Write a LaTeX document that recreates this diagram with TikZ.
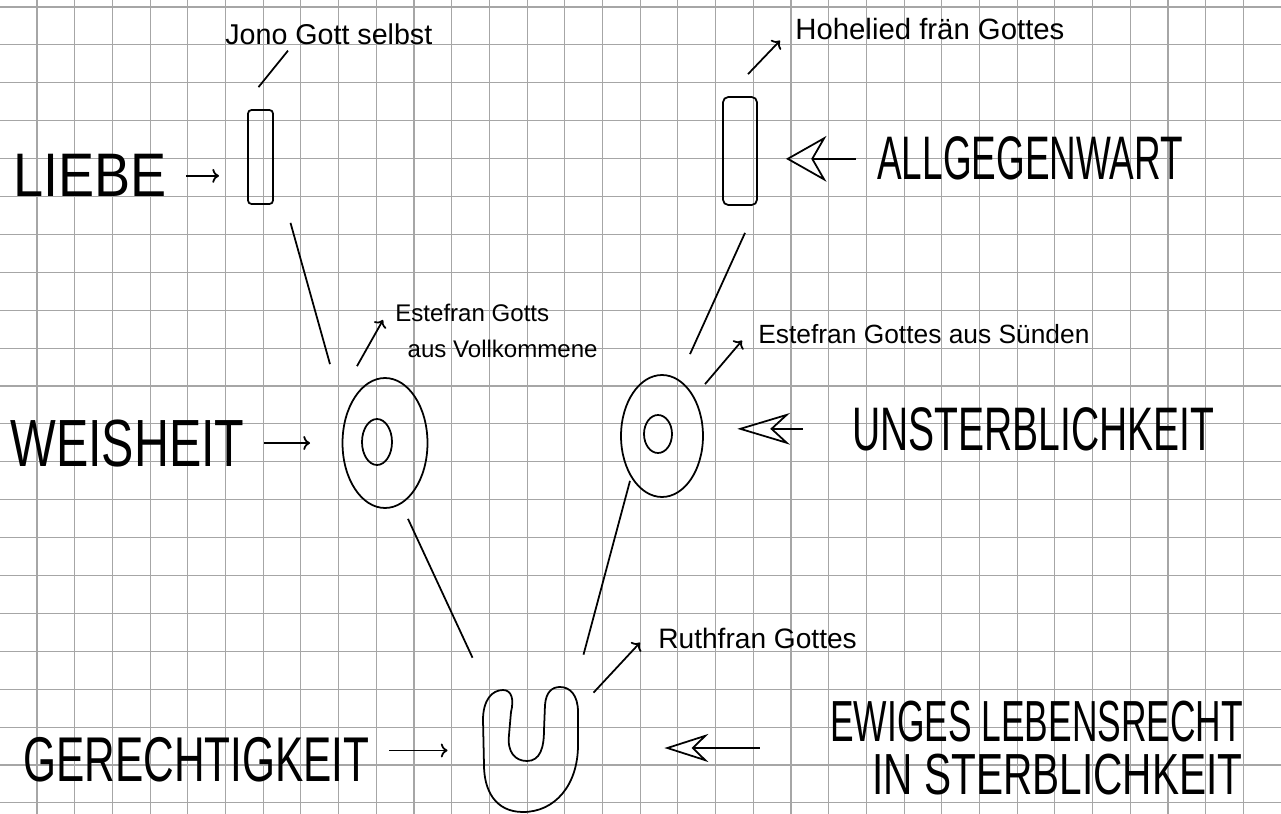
\documentclass[tikz,border=0pt]{standalone}
\usepackage{fontspec}
\setmainfont{Liberation Sans}
\usepackage{graphicx}
\usetikzlibrary{arrows,arrows.meta,shapes.geometric}

\newcommand{\schmal}[2]{\scalebox{#1}[1]{#2}}

\tikzset{
  hand/.style={inner sep=0pt,anchor=base west,font=\fontsize{#1}{#1}\selectfont},
  stift/.style={line width=1pt},
  form/.style={draw,line width=1pt,inner sep=0pt},
  offen/.style={line width=1pt,-{Stealth[open,#1]}},
  karo/.style={black!35,line width=0.6pt}
}

\begin{document}
\begin{tikzpicture}[x=0.02cm,y=-0.02cm]
\useasboundingbox (0,0) rectangle (1281,814);
% Karopapier
\foreach \i in {0,...,33} \draw[karo] (37+37.7*\i,0) -- (37+37.7*\i,814);
\foreach \j in {0,...,21} \draw[karo] (0,7+37.9*\j) -- (1281,7+37.9*\j);

% Formen
\node[form,rectangle,rounded corners=2pt,minimum width=0.5cm,minimum height=1.88cm] (lrect) at (260.5,157) {};
\node[form,rectangle,rounded corners=3pt,minimum width=0.68cm,minimum height=2.16cm] (rrect) at (740,151) {};
\node[form,ellipse,minimum width=1.7cm,minimum height=2.6cm] (lwei) at (385,443) {};
\node[form,ellipse,minimum width=0.6cm,minimum height=0.92cm] (lkern) at (377,442) {};
\node[form,ellipse,minimum width=1.64cm,minimum height=2.44cm] (rwei) at (662,436) {};
\node[form,ellipse,minimum width=0.56cm,minimum height=0.76cm] (rkern) at (658,434) {};
\node[inner sep=0pt,minimum width=1.9cm,minimum height=2.5cm] (ger) at (530.5,749.5) {};
\draw[stift] (483,720) .. controls (483,700) and (492,690) .. (503,690)
  .. controls (512,690) and (514,700) .. (511,712)
  -- (509,735) .. controls (507,752) and (515,761) .. (527,761)
  .. controls (540,761) and (544,748) .. (544,730)
  -- (545,705) .. controls (546,692) and (552,687) .. (560,687)
  .. controls (570,687) and (578,695) .. (578,712)
  -- (578,745) .. controls (578,785) and (555,812) .. (523,812)
  .. controls (495,812) and (484,790) .. (484,765) -- cycle;

% Begriffe
\node[hand=35] (liebe) at (13,197) {\schmal{0.88}{LIEBE}};
\node[hand=38] (weisheit) at (10,466) {\schmal{0.725}{WEISHEIT}};
\node[hand=36] (gerecht) at (23,781) {\schmal{0.67}{GERECHTIGKEIT}};
\node[hand=35] (allg) at (877,180) {\schmal{0.6}{ALLGEGENWART}};
\node[hand=35] (unst) at (852,450) {\schmal{0.635}{UNSTERBLICHKEIT}};
\node[hand=33,anchor=west,align=left] (ewig) at (830,748)
  {\schmal{0.61}{EWIGES LEBENSRECHT}\\[-3pt]\hspace*{24pt}\schmal{0.70}{IN STERBLICHKEIT}};

% Randnotizen
\node[hand=16.3] (jono) at (225,45) {Jono Gott selbst};
\node[hand=16.7] (hohe) at (795,40) {Hohelied frän Gottes};
\node[hand=13.7,anchor=north west,align=left] (lest) at (395,304)
  {Estefran Gotts\\[6.7pt]\hspace*{7pt}aus Vollkommene};
\node[hand=15] (rest) at (758,343) {Estefran Gottes aus Sünden};
\node[hand=16] (ruth) at (658,648) {Ruthfran Gottes};

% Verbindungen
\draw[stift] ([shift={(30,18)}]lrect.south) -- ([shift={(-55,-13)}]lwei.north);
\draw[stift] ([shift={(5,27)}]rrect.south) -- ([shift={(28,-20)}]rwei.north);
\draw[stift] ([shift={(23,10)}]lwei.south) -- ([shift={(-58,-29)}]ger.north);
\draw[stift] ([shift={(-32,-17)}]rwei.south) -- ([shift={(53,-32)}]ger.north);

\draw[stift] ([shift={(-2,-22)}]lrect.north) -- ([shift={(63,5)}]jono.south west);
\draw[stift,->] ([shift={(8,-22)}]rrect.north) -- ([shift={(-15,0)}]hohe.south west);
\draw[stift,->] ([shift={(-28,-11)}]lwei.north) -- ([shift={(-12,16)}]lest.north west);
\draw[stift,->] ([shift={(43,10)}]rwei.north) -- ([shift={(-16,-3)}]rest.south west);
\draw[stift,->] ([shift={(63,6)}]ger.north) -- ([shift={(-18,-6)}]ruth.south west);

\draw[stift,->,shorten <=11pt,shorten >=16pt] (liebe.east) -- (liebe.east -| lrect.west);
\draw[stift,->,shorten <=11pt,shorten >=18pt] (weisheit.east) -- (weisheit.east -| lwei.west);
\draw[stift,->,shorten <=11pt,shorten >=20pt] ([yshift=5pt]gerecht.east) -- ([yshift=5pt]gerecht.east -| ger.west);

\draw[offen={length=23pt,width=26pt},shorten <=12pt,shorten >=16pt] (allg.west) -- (allg.west -| rrect.east);
\draw[offen={length=30pt,width=18pt},shorten <=28pt,shorten >=19pt] (unst.west) -- (unst.west -| rwei.east);
\draw[offen={length=25pt,width=16pt},shorten <=40pt,shorten >=49pt] (ewig.west) -- (ewig.west -| ger.east);
\end{tikzpicture}
\end{document}
